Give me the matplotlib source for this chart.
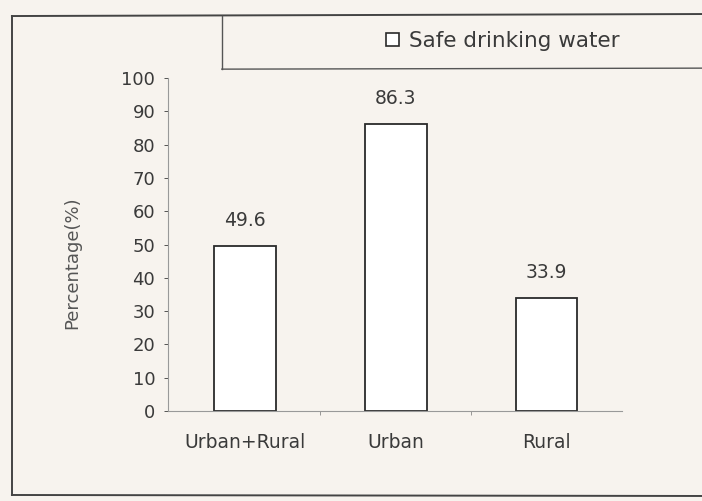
import matplotlib
matplotlib.use("Agg")
import matplotlib.pyplot as plt
from matplotlib.lines import Line2D
from matplotlib.patches import Patch

areas = ["Urban+Rural", "Urban", "Rural"]
safe_water = [49.6, 86.3, 33.9]
y_ticks = list(range(0, 101, 10))

bg = "#f7f3ee"
ink = "#3a3a3a"
plt.rcParams["font.family"] = ["DejaVu Sans"]

fig = plt.figure(figsize=(7.02, 5.01), dpi=100, facecolor=bg)
ax = fig.add_axes([0.239, 0.1796, 0.647, 0.6647], facecolor=bg)

x = range(len(areas))
ax.bar(x, safe_water, width=0.41, facecolor="white", edgecolor="#2a2a2a", linewidth=1.3)
for xi, v in zip(x, safe_water):
    ax.text(xi, v + 4.8, f"{v}", ha="center", va="bottom", fontsize=13.5, color=ink)

ax.set_xlim(-0.51, 2.5)
ax.set_ylim(0, 100)
ax.set_yticks(y_ticks)
ax.tick_params(axis="y", labelsize=13, colors=ink, length=3, width=0.6, pad=6)
ax.set_xticks(list(x))
ax.set_xticklabels(areas)
ax.tick_params(axis="x", labelsize=13.5, colors=ink, length=0, pad=16)
ax.set_xticks([0.5, 1.5], minor=True)
ax.tick_params(axis="x", which="minor", length=3, width=0.6, color="#888")
for side in ("top", "right"):
    ax.spines[side].set_visible(False)
for side in ("left", "bottom"):
    ax.spines[side].set_color("#999")
    ax.spines[side].set_linewidth(0.8)
ax.set_ylabel("Percentage(%)", fontsize=13, color="#555")
ax.yaxis.set_label_coords(-0.19, 0.444)

# outer frame of the figure box
frame = dict(color="#444", linewidth=1.4, transform=fig.transFigure)
fig.add_artist(Line2D([0.017, 1.0], [0.968, 0.972], **frame))
fig.add_artist(Line2D([0.017, 0.017], [0.968, 0.012], **frame))
fig.add_artist(Line2D([0.017, 1.0], [0.012, 0.010], **frame))

# legend box (left and bottom edges only, clipped by the page)
box = dict(color="#555", linewidth=1.0, transform=fig.transFigure)
fig.add_artist(Line2D([0.316, 0.316], [0.968, 0.862], **box))
fig.add_artist(Line2D([0.316, 1.0], [0.862, 0.864], **box))

handle = Patch(facecolor="white", edgecolor="#2a2a2a", linewidth=1.2)
fig.legend([handle], ["Safe drinking water"], loc="center left",
           bbox_to_anchor=(0.535, 0.918), frameon=False, fontsize=15.5,
           handlelength=0.6, handleheight=0.6, handletextpad=0.45,
           borderpad=0, labelcolor=ink)

fig.savefig("out.png", dpi=100, facecolor=bg)
